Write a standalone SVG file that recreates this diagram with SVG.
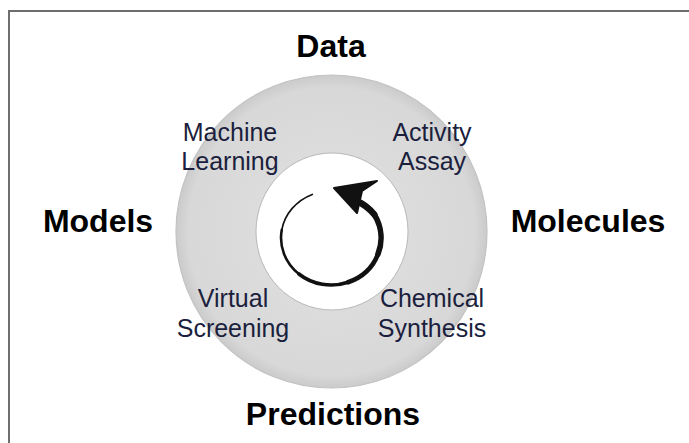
<svg xmlns="http://www.w3.org/2000/svg" width="689" height="443" viewBox="0 0 689 443">
  <defs>
    <radialGradient id="ringGrad" cx="0.5" cy="0.5" r="0.5">
      <stop offset="0.5" stop-color="#dcdcdc"/>
      <stop offset="0.92" stop-color="#d8d8d8"/>
      <stop offset="1" stop-color="#cbcbcb"/>
    </radialGradient>
  </defs>
  <style>
    .big { font-family: "Liberation Sans", Arial, sans-serif; font-weight: bold; font-size: 32px; fill: #000; text-anchor: middle; }
    .small { font-family: "Liberation Sans", Arial, sans-serif; font-size: 25px; fill: #1b1f3d; text-anchor: middle; }
    .brush { fill: none; stroke: #111; stroke-linecap: round; }
  </style>
  <rect x="9" y="11" width="700" height="450" fill="#fff" stroke="#6e6e6e" stroke-width="2"/>

  <g id="ring">
    <ellipse cx="331.5" cy="231.5" rx="155.5" ry="156.5" fill="url(#ringGrad)" stroke="#c2c2c2" stroke-width="1.2"/>
    <ellipse cx="332" cy="231.5" rx="76" ry="78.5" fill="#fff" stroke="#b8b8b8" stroke-width="1"/>
  </g>

  <g id="cycle-arrow">
    <path class="brush" stroke-width="1.6" d="M 312.3 194.4 A 50 47 0 0 0 281.8 229.8"/>
    <path class="brush" stroke-width="2.6" d="M 281.8 229.8 A 50 47 0 0 0 298.9 274.0"/>
    <path class="brush" stroke-width="3.6" d="M 298.9 274.0 A 50 47 0 0 0 348.1 282.2"/>
    <path class="brush" stroke-width="4.6" d="M 348.1 282.2 A 50 47 0 0 0 378.0 254.1"/>
    <path class="brush" stroke-width="5.6" d="M 378.0 254.1 A 50 47 0 0 0 374.3 214.5"/>
    <path class="brush" stroke-width="6.4" d="M 374.3 214.5 A 50 47 0 0 0 357 201"/>
    <polygon points="334,188 377,181 362,191 357,213" fill="#111" stroke="#111" stroke-width="2" stroke-linejoin="round"/>
  </g>

  <g id="node-data"><text class="big" x="331" y="57">Data</text></g>
  <g id="node-models"><text class="big" x="98" y="232">Models</text></g>
  <g id="node-molecules"><text class="big" x="588" y="232">Molecules</text></g>
  <g id="node-predictions"><text class="big" x="333" y="425">Predictions</text></g>

  <g id="node-machine-learning">
    <text class="small" x="230" y="141">Machine</text>
    <text class="small" x="230" y="170">Learning</text>
  </g>
  <g id="node-activity-assay">
    <text class="small" x="432" y="141">Activity</text>
    <text class="small" x="432" y="170">Assay</text>
  </g>
  <g id="node-virtual-screening">
    <text class="small" x="233" y="307">Virtual</text>
    <text class="small" x="233" y="337">Screening</text>
  </g>
  <g id="node-chemical-synthesis">
    <text class="small" x="432" y="307">Chemical</text>
    <text class="small" x="432" y="337">Synthesis</text>
  </g>
</svg>
